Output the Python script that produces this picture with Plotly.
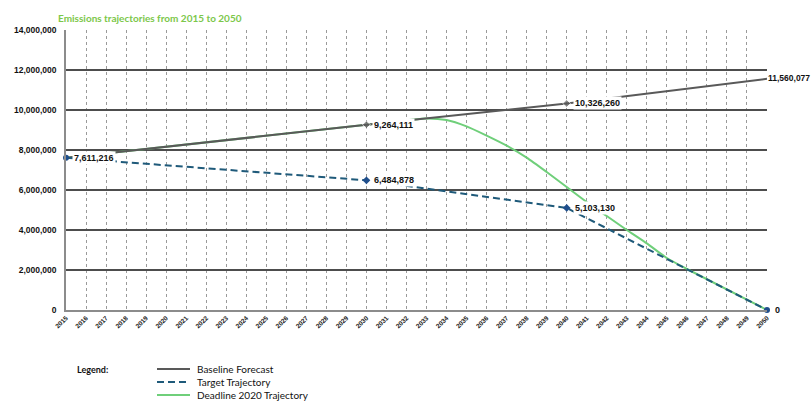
import plotly.graph_objects as go

# data
base_years = [2015, 2030, 2040, 2050]
base_values = [7611216, 9264111, 10326260, 11560077]

target_years = [2015, 2030, 2040, 2050]
target_values = [7611216, 6484878, 5103130, 0]

deadline_years = [2015, 2030, 2033, 2034, 2035, 2036, 2037, 2038, 2039, 2040,
                  2041, 2042, 2043, 2044, 2045, 2046, 2050]
deadline_values = [7611216, 9264111, 9580000, 9500000, 9180000, 8720000, 8220000,
                   7620000, 6900000, 6150000, 5400000, 4700000, 4000000, 3330000,
                   2600000, 2050000, 0]

series_names = ['Baseline Forecast', 'Target Trajectory', 'Deadline 2020 Trajectory']
years = list(range(2015, 2051))

grey = '#595959'
blue = '#1f5a7a'
green = '#6fcf7a'

W, H = 811, 401
L, R, T, B = 66, 44, 30, 91
pw, ph = W - L - R, H - T - B


def px(x):
    return (x - L) / pw


def py(y):
    return (H - B - y) / ph


fig = go.Figure()

fig.add_trace(go.Scatter(
    x=deadline_years, y=deadline_values, name=series_names[2], mode='lines',
    line=dict(color=green, width=2, shape='spline', smoothing=0.6),
    cliponaxis=False
))
fig.add_trace(go.Scatter(
    x=base_years, y=base_values, name=series_names[0], mode='lines+markers',
    line=dict(color=grey, width=2),
    marker=dict(color=grey, size=[0, 6, 6, 0], symbol='diamond'),
    cliponaxis=False
))
fig.add_trace(go.Scatter(
    x=target_years, y=target_values, name=series_names[1], mode='lines+markers',
    line=dict(color=blue, width=2, dash='7px,4px'),
    marker=dict(color='#1f4e8c', size=6, symbol=['circle', 'diamond', 'diamond', 'circle']),
    cliponaxis=False
))

label_font = dict(family='Liberation Sans', size=9, color='#111111', weight='bold')
labels = [
    (base_years[0], base_values[0], 6, 0),
    (base_years[1], base_values[1], 6, 0),
    (base_years[2], base_values[2], 6, 0),
    (target_years[1], target_values[1], 6, 0),
    (target_years[2], target_values[2], 6, 0),
    (target_years[3], target_values[3], 6, 0),
]
annotations = []
for x, y, dx, dy in labels:
    annotations.append(dict(
        x=x, y=y, text='{:,}'.format(y), showarrow=False, xanchor='left',
        xshift=dx, yshift=dy, bgcolor='white', borderpad=1, font=label_font
    ))
# last baseline label sits tight against the right edge
annotations.append(dict(
    x=base_years[3], y=base_values[3], text='{:,}'.format(base_values[3]), showarrow=False,
    xanchor='left', xshift=0, yshift=1, bgcolor='white', borderpad=0,
    font=dict(family='Liberation Sans', size=8.5, color='#111111', weight='bold')
))

# hand-drawn legend, like the spreadsheet one
annotations.append(dict(
    x=px(75), y=py(369), xref='paper', yref='paper', text='Legend:', showarrow=False,
    xanchor='left', yanchor='middle',
    font=dict(family='Lato', size=9, color='#111111', weight='bold')
))
legend_styles = [(grey, 'solid'), (blue, '7px,4px'), (green, 'solid')]
shapes = []
for i, (name, (col, dash)) in enumerate(zip(series_names, legend_styles)):
    yy = py(369 + 13 * i)
    shapes.append(dict(type='line', xref='paper', yref='paper',
                       x0=px(157), x1=px(190), y0=yy, y1=yy,
                       line=dict(color=col, width=2, dash=dash)))
    annotations.append(dict(
        x=px(195), y=yy, xref='paper', yref='paper', text=name, showarrow=False,
        xanchor='left', yanchor='middle',
        font=dict(family='Lato', size=10, color='#111111')
    ))

fig.update_layout(
    width=W, height=H,
    margin=dict(l=L, r=R, t=T, b=B, autoexpand=False),
    plot_bgcolor='white', paper_bgcolor='white',
    title=dict(text='Emissions trajectories from 2015 to 2050', x=58 / W, xanchor='left',
               y=1 - 18 / H, yanchor='middle',
               font=dict(family='Lato', size=10, color='#7cc74a', weight='bold')),
    showlegend=False,
    annotations=annotations,
    shapes=shapes,
)

fig.update_xaxes(
    range=[2015, 2050], tickmode='array', tickvals=years, ticktext=[str(y) for y in years],
    tickangle=-45, tickfont=dict(family='Liberation Sans', size=6.5, color='#222222', weight='bold'),
    showgrid=True, gridcolor='#9a9a9a', griddash='dot', gridwidth=1,
    showline=True, linecolor='#8c8c8c', linewidth=1.5, zeroline=False, ticks=''
)
fig.update_yaxes(
    range=[0, 14000000], dtick=2000000, tickformat=',',
    tickfont=dict(family='Liberation Sans', size=8.5, color='#111111', weight='bold'),
    showgrid=True, gridcolor='#4d4d4d', gridwidth=1.5,
    showline=True, linecolor='#8c8c8c', linewidth=1.5, zeroline=False,
    ticklabelstandoff=6
)

# drop the page's default body margin so the chart fills the window exactly
fig.write_html("out.html", config={'displayModeBar': False},
               post_script="document.body.style.margin='0';")
